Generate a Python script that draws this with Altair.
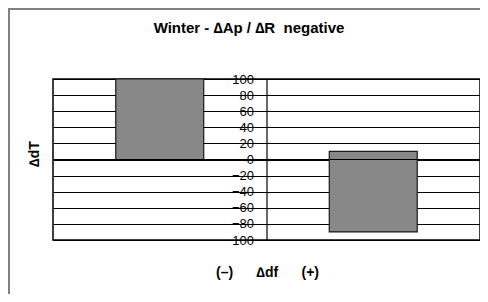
import altair as alt
import pandas as pd

# data
categories = ["(–)", "(+)"]
bar_start = [0, -90]
bar_end = [100, 10]
y_ticks = [-100, -80, -60, -40, -20, 0, 20, 40, 60, 80, 100]
zero_line = [0]

title_text = "Winter - \u2206Ap / \u2206R\u00a0\u00a0negative"
y_title = "\u2206dT"
NB = "\u00a0" * 6
x_title = "(\u2013)" + NB + "\u2206df" + NB + "(+)"

FONT = "Liberation Sans"

bars_df = pd.DataFrame({"cat": categories, "start": bar_start, "end": bar_end})

W, H = 427, 161

xscale = alt.Scale(domain=categories, paddingInner=0.588, paddingOuter=0.294)
yscale = alt.Scale(domain=[-100, 100], nice=False, zero=False)

yaxis = alt.Axis(values=y_ticks, offset=-W / 2, grid=True, gridColor="black",
                 gridOpacity=1, gridWidth=1, domainColor="black", domainWidth=1.2,
                 tickColor="black", tickSize=4, labelPadding=9,
                 labelOverlap=False, labelFlush=False,
                 labelFont=FONT, labelFontSize=13, labelColor="black",
                 title=y_title, titleFont=FONT, titleFontSize=14,
                 titleFontWeight="bold", titleColor="black",
                 titleAngle=-90, titleX=-232, titleY=74.5,
                 titleBaseline="middle", titleAlign="center")

one = pd.DataFrame({"a": [0]})

frame = alt.Chart(one).mark_rect(
    fill=None, stroke="#808080", strokeWidth=2
).encode(
    x=alt.value(-44), x2=alt.value(520), y=alt.value(-70), y2=alt.value(400)
)

title = alt.Chart(one).mark_text(
    text=title_text, font=FONT, fontSize=15, fontWeight="bold", color="black",
    align="center", baseline="alphabetic"
).encode(x=alt.value(196), y=alt.value(-46.5))

bars = alt.Chart(bars_df).mark_bar(
    color="#888888", stroke="#1a1a1a", strokeWidth=1.2
).encode(
    x=alt.X("cat:N", scale=xscale, sort=categories,
            axis=alt.Axis(labels=False, ticks=False, domain=False, title=x_title,
                          titleFont=FONT, titleFontSize=14, titleFontWeight="bold",
                          titleColor="black", titleY=36, titleBaseline="alphabetic",
                          titleX=W / 2 + 0.5)),
    y=alt.Y("start:Q", scale=yscale, axis=yaxis),
    y2="end:Q",
)

zero = alt.Chart(pd.DataFrame({"z": zero_line})).mark_rule(
    color="black", strokeWidth=1
).encode(y=alt.Y("z:Q", scale=yscale, axis=yaxis))

chart = alt.layer(frame, bars, zero, title).properties(
    width=W, height=H,
    background="white",
    padding={"left": 45, "top": 71, "right": 0, "bottom": 54},
    autosize=alt.AutoSizeParams(type="none"),
).configure_view(
    stroke="black", strokeWidth=1.5
).configure_axis(
    labelOverlap=False
)

chart.save("out.html", embed_options={"renderer": "svg", "actions": False})
